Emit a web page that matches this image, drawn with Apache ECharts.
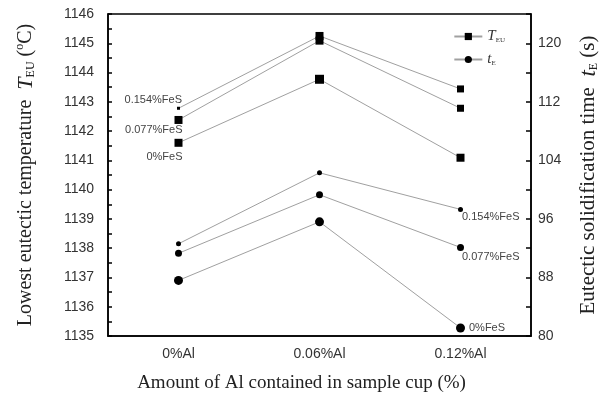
<!DOCTYPE html>
<html>
<head>
<meta charset="utf-8">
<script src="https://cdn.jsdelivr.net/npm/echarts@6/dist/echarts.min.js"></script>
<style>
  html, body { margin: 0; padding: 0; background: #fff; }
  #chart { width: 608px; height: 398px; }
</style>
</head>
<body>
<div id="chart"></div>
<script>
// data
const categories = ['0%Al', '0.06%Al', '0.12%Al'];
const feLabels = ['0.154%FeS', '0.077%FeS', '0%FeS'];

// lowest eutectic temperature T_EU (°C), left axis
const teu0154 = [1142.78, 1145.25, 1143.44];
const teu0077 = [1142.38, 1145.09, 1142.78];
const teu000 = [1141.6, 1143.77, 1141.09];

// eutectic solidification time t_E (s), right axis
const te0154 = [92.6, 102.3, 97.3];
const te0077 = [91.3, 99.3, 92.1];
const te000 = [87.6, 95.6, 81.1];

const chart = echarts.init(document.getElementById('chart'));

const serif = '"Liberation Serif", "DejaVu Serif", serif';
const sans = '"Liberation Sans", Arial, sans-serif';

const lineGray = '#a0a0a0';

const labelStyle = {
    show: true,
    fontFamily: sans,
    fontSize: 11,
    color: '#444'
};

// build data items; sizes are per point (some markers are drawn smaller)
function items(values, sizes, labelIdx, label) {
    return values.map((v, i) => {
        const it = { value: v, symbolSize: sizes[i] };
        if (i === labelIdx) it.label = label;
        return it;
    });
}

const option = {
    animation: false,
    backgroundColor: '#fff',
    grid: {
        left: 108,
        right: 75,
        top: 14,
        bottom: 62,
        show: true,
        borderColor: '#000',
        borderWidth: 1.5,
        backgroundColor: 'transparent'
    },
    legend: {
        orient: 'vertical',
        right: 98,
        top: 24,
        itemWidth: 28,
        itemHeight: 9,
        itemGap: 8,
        data: ['T_EU', 't_E'],
        formatter: function (name) {
            return name === 'T_EU' ? '{i|T}{s|EU}' : '{i|t}{s|E}';
        },
        textStyle: {
            rich: {
                i: { fontFamily: serif, fontStyle: 'italic', fontSize: 15, color: '#333' },
                s: { fontFamily: serif, fontSize: 7, color: '#333', padding: [8, 0, 0, 0] }
            }
        }
    },
    xAxis: [
        {
            type: 'category',
            position: 'bottom',
            data: categories,
            boundaryGap: true,
            name: 'Amount of Al contained in sample cup (%)',
            nameLocation: 'middle',
            nameGap: 38,
            nameTextStyle: { fontFamily: serif, fontSize: 19, color: '#222', padding: [0, 36, 0, 0] },
            axisLine: { lineStyle: { color: '#000', width: 1.5 } },
            axisTick: { alignWithLabel: true, inside: true, length: 5, lineStyle: { color: '#000', width: 1.5 } },
            axisLabel: { fontFamily: sans, fontSize: 14, color: '#333', margin: 11 },
            splitLine: { show: false }
        },
        {
            // short ticks between the categories
            type: 'category',
            position: 'bottom',
            data: categories,
            boundaryGap: true,
            axisLine: { show: false },
            axisTick: { inside: true, length: 3, lineStyle: { color: '#000', width: 1.5 } },
            axisLabel: { show: false },
            splitLine: { show: false }
        }
    ],
    yAxis: [
        {
            type: 'value',
            position: 'left',
            min: 1135,
            max: 1146,
            interval: 0.5,
            name: 'Lowest eutectic temperature  {i|T}{s|EU} ({o|o}C)',
            nameLocation: 'middle',
            nameRotate: 90,
            nameGap: 70,
            nameTextStyle: {
                fontFamily: serif, fontSize: 20, color: '#222',
                rich: {
                    i: { fontFamily: serif, fontStyle: 'italic', fontSize: 22, color: '#222' },
                    s: { fontFamily: serif, fontSize: 12, color: '#222', padding: [10, 0, 0, 0] },
                    o: { fontFamily: serif, fontSize: 12, color: '#222', padding: [0, 0, 12, 0] }
                }
            },
            axisLine: { show: true, lineStyle: { color: '#000', width: 1.5 } },
            axisTick: { show: true, inside: true, length: 4, lineStyle: { color: '#000', width: 1.5 } },
            axisLabel: {
                fontFamily: sans, fontSize: 14, color: '#333', margin: 14,
                formatter: v => (Number.isInteger(v) ? String(v) : '')
            },
            splitLine: { show: false }
        },
        {
            type: 'value',
            position: 'right',
            min: 80,
            max: 124,
            interval: 4,
            name: 'Eutectic solidification time  {i|t}{s|E} (s)',
            nameLocation: 'middle',
            nameRotate: 90,
            nameGap: 46,
            nameTextStyle: {
                fontFamily: serif, fontSize: 21, color: '#222',
                rich: {
                    i: { fontFamily: serif, fontStyle: 'italic', fontSize: 23, color: '#222' },
                    s: { fontFamily: serif, fontSize: 12, color: '#222', padding: [10, 0, 0, 0] }
                }
            },
            axisLine: { show: true, lineStyle: { color: '#000', width: 1.5 } },
            axisTick: { show: true, inside: true, length: 5, lineStyle: { color: '#000', width: 1.5 } },
            axisLabel: {
                fontFamily: sans, fontSize: 14, color: '#333', margin: 7,
                formatter: v => (v % 8 === 0 ? String(v) : '')
            },
            splitLine: { show: false }
        }
    ],
    series: [
        {
            name: 'T_EU', type: 'line', yAxisIndex: 0, symbol: 'rect', symbolSize: 8,
            lineStyle: { color: lineGray, width: 1 }, itemStyle: { color: '#000' },
            data: items(teu0154, [3, 8, 7], 0, Object.assign({}, labelStyle, { formatter: feLabels[0], position: 'left', offset: [10, -8] }))
        },
        {
            name: 'T_EU', type: 'line', yAxisIndex: 0, symbol: 'rect', symbolSize: 8,
            lineStyle: { color: lineGray, width: 1 }, itemStyle: { color: '#000' },
            data: items(teu0077, [8, 8, 7], 0, Object.assign({}, labelStyle, { formatter: feLabels[1], position: 'left', offset: [13, 10] }))
        },
        {
            name: 'T_EU', type: 'line', yAxisIndex: 0, symbol: 'rect', symbolSize: 8,
            lineStyle: { color: lineGray, width: 1 }, itemStyle: { color: '#000' },
            data: items(teu000, [8, 9, 8], 0, Object.assign({}, labelStyle, { formatter: feLabels[2], position: 'left', offset: [13, 14] }))
        },
        {
            name: 't_E', type: 'line', yAxisIndex: 1, symbol: 'circle', symbolSize: 9,
            lineStyle: { color: lineGray, width: 1 }, itemStyle: { color: '#000' },
            data: items(te0154, [5, 5, 5], 2, Object.assign({}, labelStyle, { formatter: feLabels[0], position: 'right', offset: [-6, 8] }))
        },
        {
            name: 't_E', type: 'line', yAxisIndex: 1, symbol: 'circle', symbolSize: 7,
            lineStyle: { color: lineGray, width: 1 }, itemStyle: { color: '#000' },
            data: items(te0077, [7, 7, 7], 2, Object.assign({}, labelStyle, { formatter: feLabels[1], position: 'right', offset: [-7, 10] }))
        },
        {
            name: 't_E', type: 'line', yAxisIndex: 1, symbol: 'circle', symbolSize: 9,
            lineStyle: { color: lineGray, width: 1 }, itemStyle: { color: '#000' },
            data: items(te000, [9, 9, 9], 2, Object.assign({}, labelStyle, { formatter: feLabels[2], position: 'right', offset: [-1, 0] }))
        }
    ]
};

chart.setOption(option);
</script>
</body>
</html>
